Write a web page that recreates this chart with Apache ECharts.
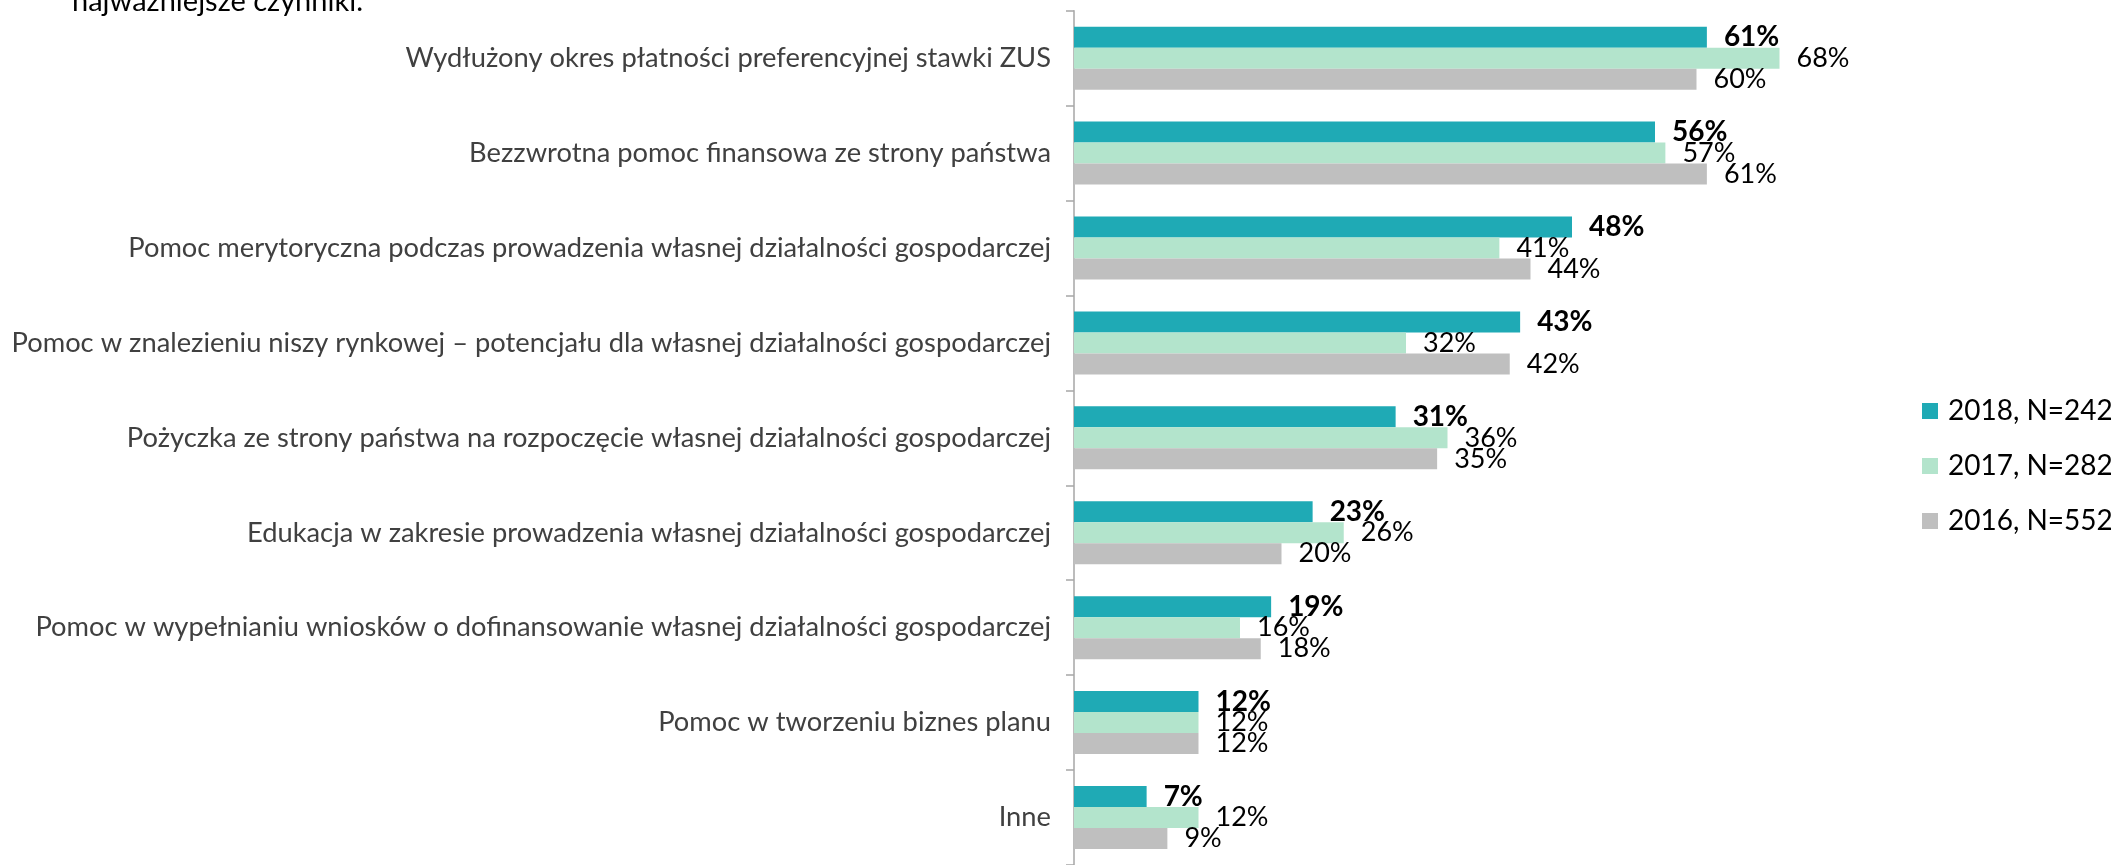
<!DOCTYPE html>
<html>
<head>
<meta charset="utf-8">
<script src="https://cdn.jsdelivr.net/npm/echarts@6/dist/echarts.min.js"></script>
<style>
  html, body { margin: 0; padding: 0; background: #fff; }
  #chart { width: 2111px; height: 865px; }
</style>
</head>
<body>
<div id="chart"></div>
<script>
const categories = [
  'Wydłużony okres płatności preferencyjnej stawki ZUS',
  'Bezzwrotna pomoc finansowa ze strony państwa',
  'Pomoc merytoryczna podczas prowadzenia własnej działalności gospodarczej',
  'Pomoc w znalezieniu niszy rynkowej – potencjału dla własnej działalności gospodarczej',
  'Pożyczka ze strony państwa na rozpoczęcie własnej działalności gospodarczej',
  'Edukacja w zakresie prowadzenia własnej działalności gospodarczej',
  'Pomoc w wypełnianiu wniosków o dofinansowanie własnej działalności gospodarczej',
  'Pomoc w tworzeniu biznes planu',
  'Inne'
];
const seriesNames = ['2018, N=242', '2017, N=282', '2016, N=552'];
const values2018 = [61, 56, 48, 43, 31, 23, 19, 12, 7];
const values2017 = [68, 57, 41, 32, 36, 26, 16, 12, 12];
const values2016 = [60, 61, 44, 42, 35, 20, 18, 12, 9];
const titleText = 'najważniejsze czynniki.';

const colors = ['#1FAAB5', '#B3E4CC', '#BFBFBF'];
const FONT = 'Lato';

const chart = echarts.init(document.getElementById('chart'));

function makeSeries(name, data, color, bold) {
  return {
    name: name,
    type: 'bar',
    data: data,
    barWidth: 21,
    barGap: '0%',
    barCategoryGap: '34%',
    itemStyle: { color: color },
    label: {
      show: true,
      position: 'right',
      distance: 17,
      formatter: '{c}%',
      color: '#000',
      fontFamily: FONT,
      fontSize: bold ? 28 : 27,
      fontWeight: bold ? 'bold' : 'normal'
    },
    emphasis: { disabled: true }
  };
}

const option = {
  animation: false,
  title: {
    text: titleText,
    left: 67,
    top: -18,
    textStyle: { fontFamily: FONT, fontSize: 29, fontWeight: 'normal', color: '#000' }
  },
  legend: {
    orient: 'vertical',
    left: 1917,
    top: 392,
    itemWidth: 16,
    itemHeight: 16,
    itemGap: 27,
    icon: 'rect',
    textStyle: { fontFamily: FONT, fontSize: 28, color: '#000', padding: [0, 0, 0, 5] },
    data: seriesNames
  },
  grid: { left: 1074, top: 10.7, width: 830, height: 859 },
  xAxis: {
    type: 'value',
    min: 0,
    max: 80,
    show: false
  },
  yAxis: {
    type: 'category',
    inverse: true,
    data: categories,
    axisLine: { show: true, lineStyle: { color: '#A6A6A6', width: 1.5 } },
    axisTick: { show: true, length: 8, lineStyle: { color: '#A6A6A6', width: 1.5 } },
    axisLabel: { margin: 23, color: '#404040', fontFamily: FONT, fontSize: 27.3 }
  },
  series: [
    makeSeries(seriesNames[0], values2018, colors[0], true),
    makeSeries(seriesNames[1], values2017, colors[1], false),
    makeSeries(seriesNames[2], values2016, colors[2], false)
  ]
};

chart.setOption(option);
</script>
</body>
</html>
